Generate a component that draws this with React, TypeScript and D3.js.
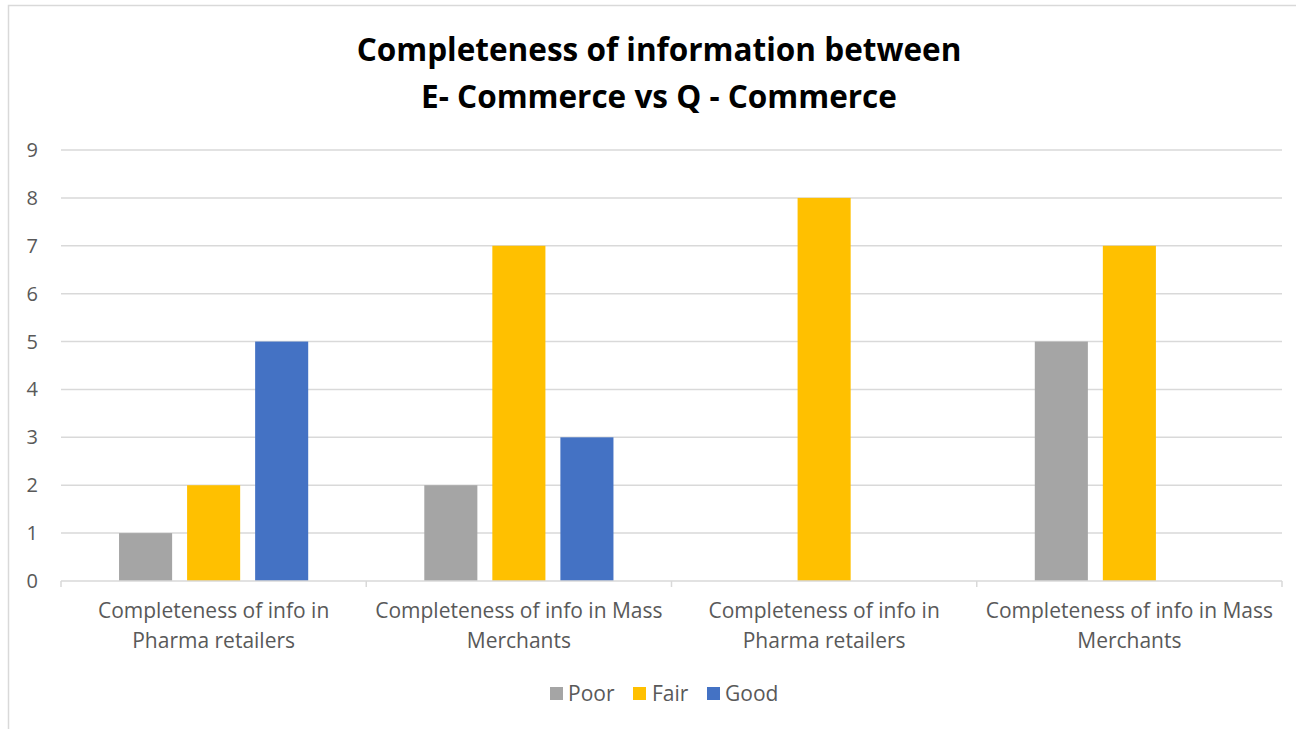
import React from "react";
import * as d3 from "d3";

const categories = [
  ["Completeness of info in", "Pharma retailers"],
  ["Completeness of info in Mass", "Merchants"],
  ["Completeness of info in", "Pharma retailers"],
  ["Completeness of info in Mass", "Merchants"],
];
const seriesNames = ["Poor", "Fair", "Good"];
const poor = [1, 2, 0, 5];
const fair = [2, 7, 8, 7];
const good = [5, 3, 0, 0];
const seriesValues = [poor, fair, good];
const colors = ["#A5A5A5", "#FFC000", "#4472C4"];
const yTicks = [0, 1, 2, 3, 4, 5, 6, 7, 8, 9];
const titleLines = ["Completeness of information between", "E- Commerce vs Q - Commerce"];

const W = 1296, H = 729;
const left = 61, right = 1282, top = 150, bottom = 581;
const FONT = "'Open Sans', Lato, sans-serif";

export default function App() {
  const x0 = d3.scaleBand<number>().domain(categories.map((_, i) => i)).range([left, right]).paddingInner(0).paddingOuter(0);
  const x1 = d3.scaleBand<number>().domain(seriesNames.map((_, i) => i)).range([0, x0.bandwidth()]).paddingInner(0.22).paddingOuter(0.853);
  const y = d3.scaleLinear().domain([0, 9]).range([bottom, top]);
  const tickXs = categories.map((_, i) => x0(i)!).concat([right]);
  const legendItems = [
    { sx: 550, tx: 568 },
    { sx: 633, tx: 652 },
    { sx: 707, tx: 725 },
  ];
  return (
    <svg width={W} height={H} style={{ position: "absolute", left: 0, top: 0, background: "#fff" }} fontFamily={FONT}>
      <rect x={8.5} y={5.5} width={1400} height={800} fill="#fff" stroke="#D9D9D9" strokeWidth={1.5} />
      {titleLines.map((t, i) => (
        <text key={i} x={659} y={61 + i * 47} textAnchor="middle" fontWeight="bold" fontSize={31.5} fill="#000">{t}</text>
      ))}
      {yTicks.map((t) => (
        <g key={t}>
          {t > 0 && <line x1={left} x2={right} y1={y(t)} y2={y(t)} stroke="#D9D9D9" strokeWidth={1.5} />}
          <text x={38} y={y(t)} dy="0.35em" textAnchor="end" fontSize={20} fill="#595959">{t}</text>
        </g>
      ))}
      {seriesValues.map((vals, s) =>
        vals.map((v, c) =>
          v > 0 ? (
            <rect key={`${s}-${c}`} x={x0(c)! + x1(s)!} y={y(v)} width={x1.bandwidth()} height={y(0) - y(v)} fill={colors[s]} />
          ) : null
        )
      )}
      <line x1={left} x2={right} y1={bottom} y2={bottom} stroke="#D9D9D9" strokeWidth={1.5} />
      {tickXs.map((tx, i) => (
        <line key={i} x1={tx} x2={tx} y1={bottom} y2={bottom + 6} stroke="#D9D9D9" strokeWidth={1.5} />
      ))}
      {categories.map((lines, i) => (
        <text key={i} textAnchor="middle" fontSize={21} fill="#595959">
          {lines.map((l, j) => (
            <tspan key={j} x={x0(i)! + x0.bandwidth() / 2} y={618 + j * 30}>{l}</tspan>
          ))}
        </text>
      ))}
      {seriesNames.map((n, i) => (
        <g key={n}>
          <rect x={legendItems[i].sx} y={687} width={13} height={13} fill={colors[i]} />
          <text x={legendItems[i].tx} y={694} dy="0.35em" fontSize={21} fill="#595959">{n}</text>
        </g>
      ))}
    </svg>
  );
}
